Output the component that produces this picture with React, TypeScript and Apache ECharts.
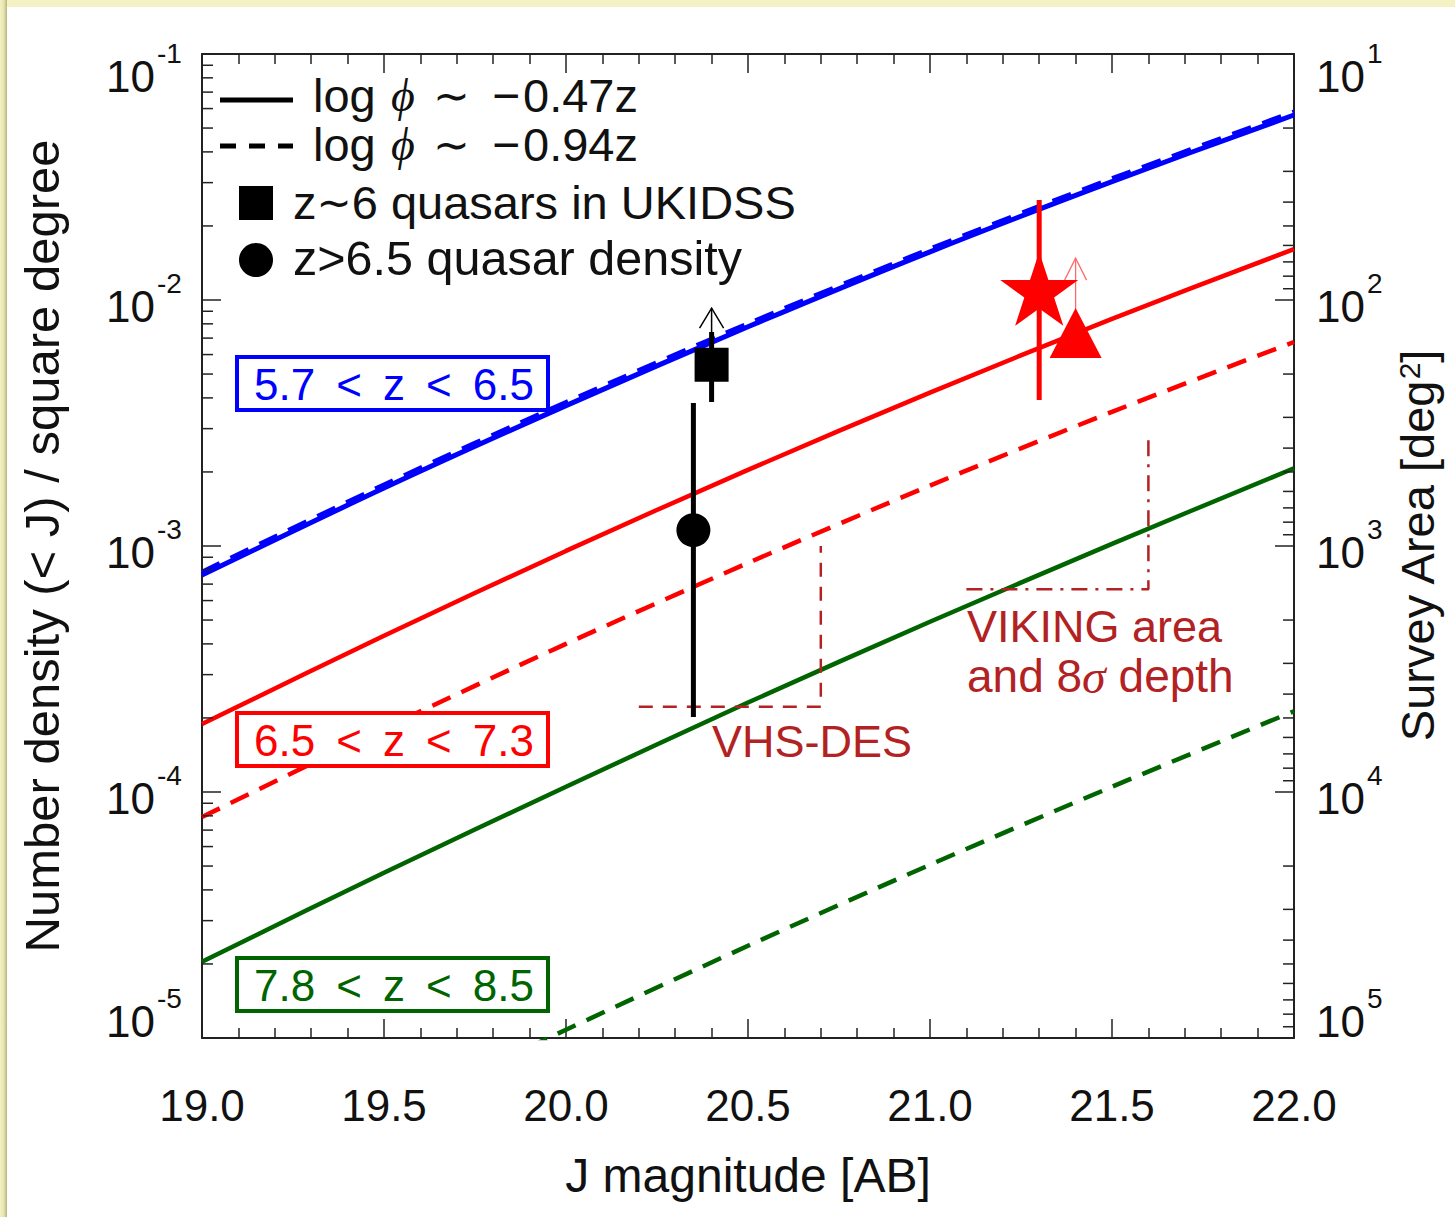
import React, { useEffect, useRef } from "react";
import * as echarts from "echarts";

const SANS = "'Liberation Sans', Arial, Helvetica, sans-serif";
const SERIF = "'Liberation Serif', 'DejaVu Serif', serif";
const INK = "#111111";
const AXIS = "#222222";
const BLUE = "#0000ff";
const RED = "#ff0000";
const GREEN = "#006400";
const SURVEY = "#b22222";

// J magnitude grid on which the model counts are tabulated
const jMag = [19.0, 19.5, 20.0, 20.5, 21.0, 21.5, 22.0];
// cumulative number density N(<J) per square degree
// "flat": log phi ~ -0.47z, "steep": log phi ~ -0.94z
const flat57to65 = [7.62e-4, 1.72e-3, 3.72e-3, 7.78e-3, 1.57e-2, 3.03e-2, 5.65e-2];
const steep57to65 = [7.83e-4, 1.77e-3, 3.83e-3, 8.0e-3, 1.61e-2, 3.11e-2, 5.81e-2];
const flat65to73 = [1.89e-4, 4.32e-4, 9.55e-4, 2.04e-3, 4.2e-3, 8.38e-3, 1.61e-2];
const steep65to73 = [7.91e-5, 1.81e-4, 4.0e-4, 8.53e-4, 1.76e-3, 3.51e-3, 6.75e-3];
const flat78to85 = [2.04e-5, 4.7e-5, 1.05e-4, 2.31e-4, 4.92e-4, 1.02e-3, 2.07e-3];
const jMagSteep78 = [19.5, 20.0, 20.5, 21.0, 21.5, 22.0];
const steep78to85 = [4.83e-6, 1.08e-5, 2.37e-5, 5.06e-5, 1.05e-4, 2.13e-4];

// measured densities: [J, N], error range [low, high]
const ukidssPoint = [20.4, 5.45e-3];
const ukidssErr = [3.85e-3, 7.41e-3];
const ukidssLimitTip = 9.27e-3;
const highzPoint = [20.35, 1.16e-3];
const highzErr = [2.02e-4, 3.81e-3];
const starPoint = [21.3, 1.11e-2];
const starErr = [3.92e-3, 2.55e-2];
const trianglePoint = [21.4, 7.34e-3];
const triangleLimitTip = 1.48e-2;

// survey outlines: area limit (density = 1 / area) and depth
const vhsDesOutline = [
  [20.2, 2.22e-4],
  [20.7, 2.22e-4],
  [20.7, 1.0e-3],
];
const vikingOutline = [
  [21.1, 6.67e-4],
  [21.6, 6.67e-4],
  [21.6, 2.77e-3],
];

// decade labels and logarithmic minor ticks
const densityLabelValues = [1e-1, 1e-2, 1e-3, 1e-4, 1e-5];
const areaLabelValues = [10, 100, 1000, 10000, 100000];
const minorMultipliers = [2, 3, 4, 5, 6, 7, 8, 9];
const densityDecades = [1e-5, 1e-4, 1e-3, 1e-2];
const areaDecades = [10, 100, 1000, 10000];

const STAR =
  "path://M50,0L61.23,34.55L97.55,34.55L68.17,55.9L79.39,90.45L50,69.1L20.61,90.45L31.83,55.9L2.45,34.55L38.77,34.55Z";

const pairs = (xs: number[], ys: number[]) => xs.map((x, i) => [x, ys[i]]);

function curve(xs: number[], ys: number[], color: string, dashed: boolean, width = 4.5) {
  return {
    type: "line",
    data: pairs(xs, ys),
    symbol: "none",
    showSymbol: false,
    smooth: 0.3,
    silent: true,
    z: 2,
    lineStyle: { color, width, type: dashed ? [20, 12] : "solid" },
  };
}

function errBar(x: number, range: number[], color: string, width: number) {
  return {
    type: "line",
    data: [
      [x, range[0]],
      [x, range[1]],
    ],
    symbol: "none",
    silent: true,
    z: 3,
    lineStyle: { color, width },
  };
}

function limitArrow(x: number, from: number, to: number, color: string, width: number, half: number, head: number) {
  return {
    type: "custom",
    silent: true,
    z: 3,
    data: [[x, from, to]],
    renderItem: (_p: any, api: any) => {
      const a = api.coord([api.value(0), api.value(1)]);
      const b = api.coord([api.value(0), api.value(2)]);
      return {
        type: "group",
        children: [
          { type: "line", shape: { x1: a[0], y1: a[1], x2: b[0], y2: b[1] }, style: { stroke: color, lineWidth: width } },
          {
            type: "polyline",
            shape: { points: [[b[0] - half, b[1] + head], [b[0], b[1]], [b[0] + half, b[1] + head]] },
            style: { stroke: color, fill: "none", lineWidth: width },
          },
        ],
      };
    },
  };
}

function minorTicks(xEdge: number, decades: number[], yAxisIndex: number, dir: number) {
  const data: number[][] = [];
  decades.forEach((d) => minorMultipliers.forEach((m) => data.push([xEdge, d * m])));
  return {
    type: "custom",
    silent: true,
    yAxisIndex,
    z: 5,
    data,
    renderItem: (_p: any, api: any) => {
      const p = api.coord([api.value(0), api.value(1)]);
      return {
        type: "line",
        shape: { x1: p[0], y1: p[1], x2: p[0] + dir * 11, y2: p[1] },
        style: { stroke: AXIS, lineWidth: 1.5 },
      };
    },
  };
}

// "10" with a raised exponent at every decade of a log axis
function decadeLabels(xEdge: number, values: number[], yAxisIndex: number, side: "left" | "right", topExp: number, bottomExp: number) {
  return {
    type: "custom",
    silent: true,
    yAxisIndex,
    z: 5,
    data: values.map((v) => [xEdge, v]),
    renderItem: (_p: any, api: any) => {
      const v = api.value(1);
      const p = api.coord([api.value(0), v]);
      const e = Math.round(Math.log10(v));
      let dy = 6.5;
      if (e === topExp) dy = 22.5;
      else if (e === bottomExp) dy = -16.5;
      const cy = p[1] + dy;
      const x0 = side === "left" ? p[0] - 96 : p[0] + 22;
      return {
        type: "group",
        children: [
          {
            type: "text",
            style: { text: "10", x: x0, y: cy, fontSize: 44, fontFamily: SANS, fill: INK, align: "left", verticalAlign: "middle" },
          },
          {
            type: "text",
            style: { text: String(e), x: x0 + 51, y: cy - 23, fontSize: 28, fontFamily: SANS, fill: INK, align: "left", verticalAlign: "middle" },
          },
        ],
      };
    },
  };
}

const axisLine = { show: true, lineStyle: { color: AXIS, width: 2 } };
const tickStyle = { color: AXIS, width: 1.5 };

function txt(text: string, x: number, y: number, fill: string, extra: any = {}) {
  return {
    type: "text",
    z: 100,
    style: { text, x, y, fill, fontSize: 46, fontFamily: SANS, align: "left", verticalAlign: "middle", ...extra },
  };
}

function zBox(label: string, top: number, color: string) {
  return [
    {
      type: "rect",
      z: 99,
      shape: { x: 237, y: top, width: 311, height: 53 },
      style: { fill: "#ffffff", stroke: color, lineWidth: 4 },
    },
    txt(label, 394, top + 27, color, { fontSize: 44, align: "center" }),
  ];
}

function buildOption() {
  const sp = " \u2009";
  return {
    animation: false,
    backgroundColor: "#ffffff",
    grid: { left: 202, top: 54, width: 1092, height: 984, containLabel: false, outerBoundsMode: "none" },
    xAxis: [
      {
        type: "value",
        min: 19,
        max: 22,
        interval: 0.5,
        position: "bottom",
        axisLine,
        axisTick: { show: true, inside: true, length: 19, lineStyle: tickStyle },
        minorTick: { show: true, splitNumber: 5, length: 10, lineStyle: tickStyle },
        splitLine: { show: false },
        minorSplitLine: { show: false },
        axisLabel: {
          margin: 45,
          fontSize: 44,
          fontFamily: SANS,
          color: INK,
          formatter: (v: number) => v.toFixed(1),
        },
        name: "J magnitude [AB]",
        nameLocation: "middle",
        nameGap: 113,
        nameTextStyle: { fontSize: 48, fontFamily: SANS, color: INK },
      },
      {
        type: "value",
        min: 19,
        max: 22,
        interval: 0.5,
        position: "top",
        axisLine,
        axisTick: { show: true, inside: true, length: 19, lineStyle: tickStyle },
        minorTick: { show: true, splitNumber: 5, length: 10, lineStyle: tickStyle },
        splitLine: { show: false },
        axisLabel: { show: false },
      },
    ],
    yAxis: [
      {
        type: "log",
        logBase: 10,
        min: 1e-5,
        max: 1e-1,
        position: "left",
        axisLine,
        axisTick: { show: true, inside: true, length: 19, lineStyle: tickStyle },
        splitLine: { show: false },
        axisLabel: { show: false },
        name: "Number density (< J) / square degree",
        nameLocation: "middle",
        nameGap: 136,
        nameTextStyle: { fontSize: 49, fontFamily: SANS, color: INK },
      },
      {
        type: "log",
        logBase: 10,
        min: 10,
        max: 1e5,
        inverse: true,
        position: "right",
        axisLine,
        axisTick: { show: true, inside: true, length: 19, lineStyle: tickStyle },
        splitLine: { show: false },
        axisLabel: { show: false },
        name: "{n|Survey Area [deg}{s|2}{n|]}",
        nameLocation: "middle",
        nameGap: 100,
        nameTextStyle: {
          fontSize: 47,
          fontFamily: SANS,
          color: INK,
          rich: {
            n: { fontSize: 47, lineHeight: 47, padding: [12, 0, 0, 0], verticalAlign: "bottom", fontFamily: SANS, color: INK },
            s: { fontSize: 30, lineHeight: 30, verticalAlign: "top", fontFamily: SANS, color: INK },
          },
        },
      },
    ],
    series: [
      curve(jMag, flat57to65, BLUE, false, 5),
      curve(jMag, steep57to65, BLUE, true, 5),
      curve(jMag, flat65to73, RED, false),
      curve(jMag, steep65to73, RED, true),
      curve(jMag, flat78to85, GREEN, false),
      curve(jMagSteep78, steep78to85, GREEN, true),
      {
        type: "line",
        data: vhsDesOutline,
        symbol: "none",
        silent: true,
        z: 2,
        lineStyle: { color: SURVEY, width: 2.5, type: [14, 10] },
      },
      {
        type: "line",
        data: vikingOutline,
        symbol: "none",
        silent: true,
        z: 2,
        lineStyle: { color: SURVEY, width: 2.5, type: [16, 8, 3, 8] },
      },
      errBar(highzPoint[0], highzErr, "#000000", 5),
      errBar(ukidssPoint[0], ukidssErr, "#000000", 5),
      errBar(starPoint[0], starErr, RED, 5),
      limitArrow(ukidssPoint[0], ukidssErr[1], ukidssLimitTip, "#000000", 1.5, 12, 20),
      limitArrow(trianglePoint[0], trianglePoint[1], triangleLimitTip, "#ff6a6a", 1.3, 11, 22),
      { type: "scatter", data: [highzPoint], symbol: "circle", symbolSize: 34, silent: true, z: 4, itemStyle: { color: "#000000", opacity: 1 } },
      { type: "scatter", data: [ukidssPoint], symbol: "rect", symbolSize: 34, silent: true, z: 4, itemStyle: { color: "#000000", opacity: 1 } },
      { type: "scatter", data: [starPoint], symbol: STAR, symbolSize: [78, 74], silent: true, z: 4, itemStyle: { color: RED, opacity: 1 } },
      { type: "scatter", data: [trianglePoint], symbol: "triangle", symbolSize: [52, 50], silent: true, z: 4, itemStyle: { color: RED, opacity: 1 } },
      minorTicks(19, densityDecades, 0, 1),
      minorTicks(22, areaDecades, 1, -1),
      decadeLabels(19, densityLabelValues, 0, "left", -1, -5),
      decadeLabels(22, areaLabelValues, 1, "right", 1, 5),
    ],
    graphic: [
      // slide frame
      { type: "rect", z: 0, shape: { x: 0, y: 0, width: 1455, height: 7 }, style: { fill: "#f4f2c4" } },
      {
        type: "rect",
        z: 0,
        shape: { x: 0, y: 0, width: 7, height: 1217 },
        style: {
          fill: new echarts.graphic.LinearGradient(0, 0, 1, 0, [
            { offset: 0, color: "#f3f1c2" },
            { offset: 0.55, color: "#e7e4ae" },
            { offset: 1, color: "#b8b482" },
          ]),
        },
      },
      // key
      { type: "line", z: 100, shape: { x1: 220, y1: 100, x2: 293, y2: 100 }, style: { stroke: "#000", lineWidth: 5 } },
      { type: "line", z: 100, shape: { x1: 220, y1: 146, x2: 293, y2: 146 }, style: { stroke: "#000", lineWidth: 5, lineDash: [16, 13] } },
      { type: "rect", z: 100, shape: { x: 239, y: 186, width: 34, height: 34 }, style: { fill: "#000" } },
      { type: "circle", z: 100, shape: { cx: 256, cy: 260, r: 17 }, style: { fill: "#000" } },
      txt("log", 313, 95, INK, { fontSize: 47 }),
      txt("\u03d5", 391, 95, INK, { fontStyle: "italic", fontFamily: SERIF, fontSize: 46 }),
      txt("\u223c", 433, 95, INK, { fontFamily: "'DejaVu Sans', sans-serif", fontSize: 44 }),
      txt("\u2212", 492, 95, INK, { fontSize: 48 }),
      txt("0.47z", 523, 95, INK, { fontSize: 47 }),
      txt("log", 313, 144, INK, { fontSize: 47 }),
      txt("\u03d5", 391, 144, INK, { fontStyle: "italic", fontFamily: SERIF, fontSize: 46 }),
      txt("\u223c", 433, 144, INK, { fontFamily: "'DejaVu Sans', sans-serif", fontSize: 44 }),
      txt("\u2212", 492, 144, INK, { fontSize: 48 }),
      txt("0.94z", 523, 144, INK, { fontSize: 47 }),
      {
        type: "text",
        z: 100,
        style: {
          text: "{a|z}{w|\u223c}{a|6 quasars in UKIDSS}",
          x: 293,
          y: 202,
          align: "left",
          verticalAlign: "middle",
          fill: INK,
          rich: {
            a: { fontSize: 47, fontFamily: SANS, color: INK },
            w: { fontSize: 42, fontFamily: "'DejaVu Sans', sans-serif", color: INK },
          },
        },
      },
      txt("z>6.5 quasar density", 293, 258, INK, { fontSize: 48.5 }),
      // redshift bins
      ...zBox(`5.7${sp}<${sp}z${sp}<${sp}6.5`, 357, BLUE),
      ...zBox(`6.5${sp}<${sp}z${sp}<${sp}7.3`, 713, RED),
      ...zBox(`7.8${sp}<${sp}z${sp}<${sp}8.5`, 958, GREEN),
      // survey labels
      txt("VHS-DES", 712, 741, SURVEY, { fontSize: 45 }),
      txt("VIKING area", 967, 626, SURVEY, { fontSize: 45, lineHeight: 40 }),
      {
        type: "text",
        z: 100,
        style: {
          text: "{a|and 8}{g|\u03c3}{a| depth}",
          x: 967,
          y: 676,
          align: "left",
          verticalAlign: "middle",
          fill: SURVEY,
          rich: {
            a: { fontSize: 46, lineHeight: 40, fontFamily: SANS, color: SURVEY },
            g: { fontSize: 48, lineHeight: 40, fontFamily: SERIF, fontStyle: "italic", color: SURVEY },
          },
        },
      },
    ],
  };
}

export default function App() {
  const ref = useRef<HTMLDivElement>(null);
  useEffect(() => {
    document.body.style.margin = "0";
    const chart = echarts.init(ref.current as HTMLDivElement, undefined, { renderer: "svg" });
    chart.setOption(buildOption() as any);
    return () => chart.dispose();
  }, []);
  return <div ref={ref} style={{ width: 1455, height: 1217, background: "#ffffff" }} />;
}
